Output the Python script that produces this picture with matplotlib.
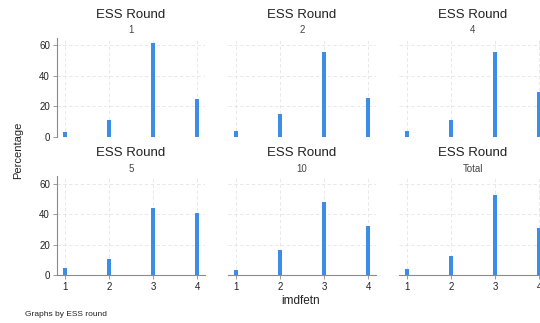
import matplotlib
matplotlib.use('Agg')
import matplotlib.pyplot as plt

plt.rcParams['font.family'] = ['Liberation Sans', 'DejaVu Sans']

categories = [1, 2, 3, 4]
panel_labels = ['1', '2', '4', '5', '10', 'Total']
pct_round1 = [3.0, 10.8, 61.2, 25.0]
pct_round2 = [4.0, 15.0, 55.5, 25.5]
pct_round4 = [4.0, 11.0, 55.8, 29.2]
pct_round5 = [4.5, 10.5, 44.3, 40.7]
pct_round10 = [3.5, 16.1, 48.0, 32.4]
pct_total = [3.9, 12.8, 52.3, 31.0]
panel_values = [pct_round1, pct_round2, pct_round4, pct_round5, pct_round10, pct_total]
y_ticks = [0, 20, 40, 60]

W, H = 540, 323
fig = plt.figure(figsize=(W / 100, H / 100), dpi=100)

bar_color = '#3b8de6'
axis_color = '#8a8a8a'
text_color = '#222222'

col_left = [57, 228, 399]
ax_w = 148
row_zero = [136.7, 275.0]   # pixel y of the zero line
ax_h = 99

for i, (lab, vals) in enumerate(zip(panel_labels, panel_values)):
    r, c = divmod(i, 3)
    left = col_left[c] / W
    bottom = (H - row_zero[r]) / H
    ax = fig.add_axes([left, bottom, ax_w / W, ax_h / H])
    ax.bar(categories, vals, width=0.09, color=bar_color, zorder=3)
    ax.set_xlim(0.82, 4.18)
    ax.set_ylim(0, 65)
    ax.set_xticks(categories)
    ax.set_yticks(y_ticks)
    ax.grid(True, color='#e4e4e4', linestyle=(0, (4, 3)), linewidth=0.6, zorder=0)
    for s in ['top', 'right']:
        ax.spines[s].set_visible(False)
    ax.spines['left'].set_visible(c == 0)
    ax.spines['bottom'].set_visible(r == 1)
    ax.spines['left'].set_color(axis_color)
    ax.spines['bottom'].set_color(axis_color)
    ax.spines['left'].set_linewidth(0.8)
    ax.spines['bottom'].set_linewidth(0.8)
    ax.tick_params(axis='y', length=3, width=0.6, color=axis_color, labelsize=7,
                   labelcolor=text_color, pad=2, left=(c == 0), labelleft=(c == 0))
    ax.tick_params(axis='x', length=3, width=0.6, color=axis_color, labelsize=7,
                   labelcolor=text_color, pad=2, bottom=(r == 1), labelbottom=(r == 1))
    ax.text(0.5, 1 + 23 / ax_h, 'ESS Round', transform=ax.transAxes, ha='center',
            va='center', fontsize=9.5, color=text_color)
    ax.text(0.5, 1 + 7.5 / ax_h, lab, transform=ax.transAxes, ha='center',
            va='center', fontsize=7, color='#444444')

fig.text(18 / W, 1 - 150 / H, 'Percentage', rotation=90, ha='center', va='center',
         fontsize=8, color=text_color)
fig.text(301 / W, 1 - 301 / H, 'imdfetn', ha='center', va='center',
         fontsize=8.5, color=text_color)
fig.text(25 / W, 1 - 315 / H, 'Graphs by ESS round', ha='left', va='center',
         fontsize=6, color=text_color)

fig.savefig('out.png', dpi=100)
